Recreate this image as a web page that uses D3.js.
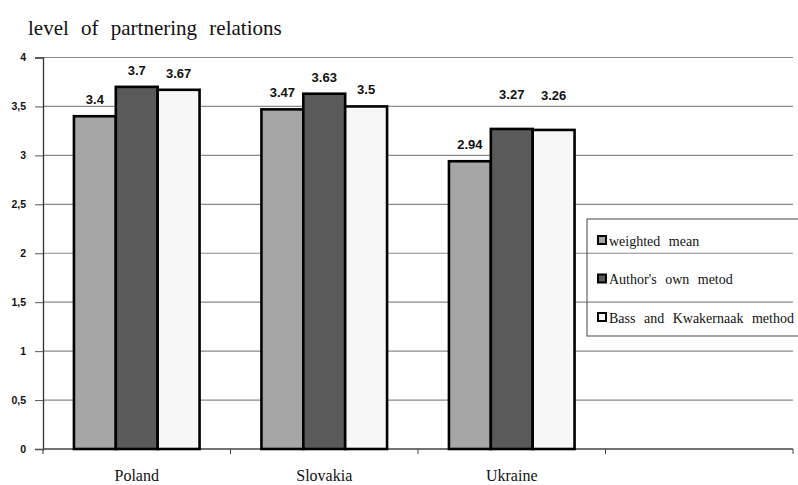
<!DOCTYPE html>
<html>
<head>
<meta charset="utf-8">
<script src="https://cdn.jsdelivr.net/npm/d3@7"></script>
<style>
  body { margin: 0; background: #fff; }
  .tick-label { font-family: "Liberation Sans", Arial, sans-serif; font-weight: bold; font-size: 10.5px; fill: #111; }
  .value-label { font-family: "Liberation Sans", Arial, sans-serif; font-weight: bold; font-size: 13px; fill: #111; }
  .serif { font-family: "Liberation Serif", Tinos, "DejaVu Serif", serif; fill: #111; }
</style>
</head>
<body>
<div id="chart"></div>
<script>
// data
const categories = ["Poland", "Slovakia", "Ukraine"];
const seriesNames = ["weighted mean", "Author's own metod", "Bass and Kwakernaak method"];
const weightedMean = [3.4, 3.47, 2.94];
const authorsMethod = [3.7, 3.63, 3.27];
const bassKwakernaak = [3.67, 3.5, 3.26];
const yTicks = [0, 0.5, 1, 1.5, 2, 2.5, 3, 3.5, 4];

const seriesValues = [weightedMean, authorsMethod, bassKwakernaak];
const seriesColors = ["#a6a6a6", "#5a5a5a", "#f7f7f7"];

// a couple of labels sit higher in the original
const labelRaise = { "Ukraine": [0, 18, 18] };

const serifFont = "'Liberation Serif', Tinos, 'DejaVu Serif', serif";

const width = 798, height = 485;
const margin = { top: 57.5, left: 43, right: 5, bottom: 36 };
const innerW = width - margin.left - margin.right;
const innerH = height - margin.top - margin.bottom;

const svg = d3.select("#chart").append("svg").attr("width", width).attr("height", height);

svg.append("text")
  .attr("class", "serif")
  .attr("font-family", serifFont)
  .attr("x", 28)
  .attr("y", 35)
  .attr("font-size", "21px")
  .attr("word-spacing", "7px")
  .text("level of partnering relations");

const g = svg.append("g").attr("transform", `translate(${margin.left},${margin.top})`);

// 4 bands, the last one left empty like the original
const x = d3.scaleBand().domain([...categories, ""]).range([0, innerW]);
const y = d3.scaleLinear().domain([0, 4]).range([innerH, 0]);
const groupW = x.bandwidth() * 0.67;
const xs = d3.scaleBand().domain(seriesNames).range([0, groupW]);

// gridlines
g.append("g")
  .selectAll("line")
  .data(yTicks.filter((d) => d > 0))
  .join("line")
  .attr("x1", 0)
  .attr("x2", innerW)
  .attr("y1", (d) => y(d))
  .attr("y2", (d) => y(d))
  .attr("stroke", "#8a8a8a")
  .attr("stroke-width", 1.2);

// y axis
const yAxis = g.append("g")
  .call(d3.axisLeft(y).tickValues(yTicks).tickSize(8).tickPadding(9)
    .tickFormat((d) => String(d).replace(".", ",")));
yAxis.select(".domain").attr("stroke", "#333").attr("stroke-width", 1.3);
yAxis.selectAll(".tick line").attr("stroke", "#555");
yAxis.selectAll(".tick text").attr("class", "tick-label").attr("font-size", null).attr("font-family", null);
g.append("line").attr("x1", 0).attr("x2", 0).attr("y1", innerH).attr("y2", innerH + 5).attr("stroke", "#333");

// x axis
g.append("line")
  .attr("x1", 0).attr("x2", innerW)
  .attr("y1", innerH).attr("y2", innerH)
  .attr("stroke", "#444").attr("stroke-width", 1.3);
g.append("g")
  .selectAll("line")
  .data(x.domain().slice(1).map((d) => x(d)).concat([innerW]))
  .join("line")
  .attr("x1", (d) => d).attr("x2", (d) => d)
  .attr("y1", innerH).attr("y2", innerH + 5)
  .attr("stroke", "#444");
g.append("g")
  .selectAll("text")
  .data(categories)
  .join("text")
  .attr("class", "serif")
  .attr("font-family", serifFont)
  .attr("font-size", "16px")
  .attr("text-anchor", "middle")
  .attr("x", (d) => x(d) + x.bandwidth() / 2)
  .attr("y", innerH + 32)
  .text((d) => d);

// bars
const rows = [];
categories.forEach((c, ci) => {
  seriesNames.forEach((s, si) => {
    rows.push({ cat: c, series: s, si, value: seriesValues[si][ci] });
  });
});
const offset = (x.bandwidth() - groupW) / 2;

g.append("g")
  .selectAll("rect")
  .data(rows)
  .join("rect")
  .attr("x", (d) => x(d.cat) + offset + xs(d.series))
  .attr("y", (d) => y(d.value))
  .attr("width", xs.bandwidth())
  .attr("height", (d) => innerH - y(d.value))
  .attr("fill", (d) => seriesColors[d.si])
  .attr("stroke", "#000")
  .attr("stroke-width", 2.6);

g.append("g")
  .selectAll("text")
  .data(rows)
  .join("text")
  .attr("class", "value-label")
  .attr("text-anchor", "middle")
  .attr("x", (d) => x(d.cat) + offset + xs(d.series) + xs.bandwidth() / 2)
  .attr("y", (d) => y(d.value) - 12 - (labelRaise[d.cat] ? labelRaise[d.cat][d.si] : 0))
  .text((d) => d.value);

// legend
const legend = svg.append("g").attr("transform", "translate(587,219)");
legend.append("rect")
  .attr("width", 220).attr("height", 117)
  .attr("fill", "none").attr("stroke", "#444").attr("stroke-width", 1);
const item = legend.selectAll("g.item")
  .data(seriesNames)
  .join("g")
  .attr("class", "item")
  .attr("transform", (d, i) => `translate(11,${21.5 + i * 38.5})`);
item.append("rect")
  .attr("x", 0).attr("y", -4.5)
  .attr("width", 8).attr("height", 8)
  .attr("fill", (d, i) => seriesColors[i])
  .attr("stroke", "#000").attr("stroke-width", 2);
item.append("text")
  .attr("class", "serif")
  .attr("font-family", serifFont)
  .attr("font-size", "14px")
  .attr("word-spacing", "5px")
  .attr("x", 11)
  .attr("y", 5)
  .text((d) => d);
</script>
</body>
</html>
